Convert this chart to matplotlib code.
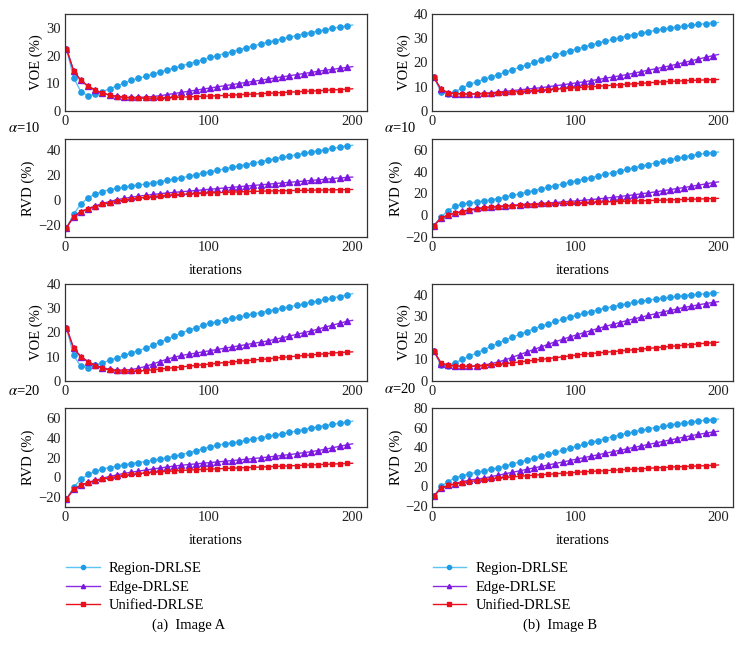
import matplotlib
matplotlib.use("Agg")
import matplotlib.pyplot as plt
from matplotlib.lines import Line2D

plt.rcParams['font.family'] = ['Liberation Serif', 'DejaVu Serif']
plt.rcParams['mathtext.fontset'] = 'stix'

iterations = [1, 6, 11, 16, 21, 26, 31, 36, 41, 46, 51, 56, 61, 66, 71, 76, 81, 86, 91, 96,
              101, 106, 111, 116, 121, 126, 131, 136, 141, 146, 151, 156, 161, 166, 171, 176,
              181, 186, 191, 196, 200]
x_ticks = [0, 100, 200]
series_names = ["Region-DRLSE", "Edge-DRLSE", "Unified-DRLSE"]

# ---- Image A, alpha=10 ----
a10_voe_region = [22.5, 12, 7, 5.5, 6, 7, 8, 9, 10, 11, 11.8, 12.5, 13.3, 14, 14.8, 15.5, 16.3, 17, 17.8, 18.5,
                  19.3, 20, 20.7, 21.4, 22.1, 22.8, 23.5, 24.2, 24.8, 25.4, 26, 26.6, 27.2, 27.8, 28.3, 28.8,
                  29.3, 29.8, 30.3, 30.7, 31]
a10_voe_edge = [22.5, 14.5, 11, 9, 7.5, 6.5, 5.7, 5.3, 5, 4.9, 4.9, 5, 5.2, 5.5, 5.9, 6.3, 6.7, 7.1, 7.5, 7.9,
                8.3, 8.7, 9.1, 9.5, 9.9, 10.3, 10.7, 11.1, 11.5, 11.9, 12.3, 12.7, 13.1, 13.5, 13.9, 14.3,
                14.7, 15, 15.4, 15.7, 16]
a10_voe_unified = [22.5, 14.5, 11, 9, 7.5, 6.5, 5.7, 5.2, 4.9, 4.7, 4.6, 4.6, 4.6, 4.7, 4.8, 4.9, 5, 5.1, 5.2, 5.3,
                   5.4, 5.5, 5.6, 5.7, 5.85, 6, 6.1, 6.25, 6.4, 6.5, 6.65, 6.8, 6.9, 7.05, 7.2, 7.3,
                   7.45, 7.6, 7.7, 7.85, 8]
a10_rvd_region = [-22, -11, -3, 2, 5, 7, 8.5, 9.5, 10.5, 11.5, 12.3, 13, 14, 15, 16, 17, 18, 19.2, 20.5, 21.7,
                  23, 24, 25.2, 26.3, 27.5, 28.6, 29.8, 31, 32, 33.2, 34.3, 35.4, 36.5, 37.5, 38.5, 39.5,
                  40.5, 41.5, 42.5, 43.5, 44]
a10_rvd_edge = [-22, -13, -9, -6.5, -4.5, -2.5, -1, 0.5, 1.5, 2.5, 3.3, 4, 4.7, 5.3, 5.9, 6.4, 6.9, 7.4, 7.9, 8.4,
                8.9, 9.4, 9.9, 10.4, 10.9, 11.4, 11.9, 12.4, 12.9, 13.4, 13.9, 14.4, 14.9, 15.4, 15.9, 16.4,
                16.9, 17.4, 17.9, 18.3, 18.6]
a10_rvd_unified = [-22, -13, -9, -7, -5, -3.3, -2, -0.8, 0.2, 1, 1.8, 2.4, 3, 3.5, 4, 4.4, 4.8, 5.1, 5.4, 5.7,
                   6, 6.2, 6.4, 6.6, 6.8, 7, 7.2, 7.3, 7.5, 7.6, 7.7, 7.8, 7.9, 8, 8.1, 8.2,
                   8.3, 8.4, 8.5, 8.6, 8.7]

# ---- Image B, alpha=10 ----
b10_voe_region = [14, 8, 7, 8, 9.5, 11, 12, 13, 14, 15, 16, 17, 18, 19, 20, 21, 22, 23, 24, 24.8,
                  25.6, 26.4, 27.2, 28, 28.8, 29.5, 30.2, 30.9, 31.5, 32.1, 32.7, 33.2, 33.7, 34.2, 34.6, 35,
                  35.4, 35.7, 36, 36.3, 36.5]
b10_voe_edge = [14, 9, 7.5, 7.2, 7, 7, 7.1, 7.3, 7.5, 7.8, 8.1, 8.4, 8.7, 9, 9.3, 9.6, 10, 10.4, 10.8, 11.2,
                11.6, 12, 12.5, 13, 13.5, 14, 14.5, 15, 15.6, 16.2, 16.8, 17.4, 18, 18.6, 19.3, 20,
                20.7, 21.4, 22.1, 22.8, 23.3]
b10_voe_unified = [14, 9, 7.5, 7.2, 7, 7, 7, 7.1, 7.2, 7.4, 7.6, 7.8, 8, 8.2, 8.4, 8.6, 8.8, 9, 9.2, 9.4,
                   9.6, 9.8, 10, 10.2, 10.4, 10.6, 10.8, 11, 11.2, 11.4, 11.6, 11.8, 12, 12.2, 12.3, 12.5,
                   12.6, 12.7, 12.8, 12.9, 13]
b10_rvd_region = [-10, -2, 4, 8, 10, 11, 12, 13, 14, 15, 16.5, 18, 19.5, 21, 22.5, 24, 25.5, 27, 28.5, 30,
                  31.5, 33, 34.5, 36, 37.5, 39, 40.5, 42, 43.5, 45, 46.5, 48, 49.5, 51, 52.3, 53.5,
                  54.7, 55.8, 56.8, 57.5, 58]
b10_rvd_edge = [-10, -3, 0, 2, 3.5, 5, 6, 7, 7.5, 8, 8.5, 9, 9.5, 10, 10.3, 10.7, 11, 11.5, 12, 12.5,
                13, 13.6, 14.2, 14.8, 15.5, 16.2, 17, 17.8, 18.6, 19.5, 20.4, 21.3, 22.3, 23.3, 24.3, 25.3,
                26.4, 27.5, 28.6, 29.8, 30.5]
b10_rvd_unified = [-10, -3, 0, 1.5, 3, 4.3, 5.3, 6.2, 7, 7.5, 8, 8.4, 8.8, 9.1, 9.4, 9.7, 10, 10.3, 10.6, 10.9,
                   11.1, 11.4, 11.6, 11.9, 12.1, 12.3, 12.5, 12.7, 12.9, 13.1, 13.3, 13.5, 13.7, 13.9, 14.1, 14.3,
                   14.5, 14.7, 14.9, 15.1, 15.3]

# ---- Image A, alpha=20 ----
a20_voe_region = [22, 10.5, 6, 5.5, 6.5, 7.5, 8.5, 9.5, 10.5, 11.5, 12.5, 13.5, 14.7, 16, 17.2, 18.5, 19.7, 21, 22, 23,
                  23.8, 24.5, 25.2, 25.8, 26.4, 27, 27.6, 28.2, 28.8, 29.4, 30, 30.6, 31.2, 31.8, 32.4, 33,
                  33.6, 34.2, 34.8, 35.4, 36]
a20_voe_edge = [22, 13.5, 10, 8, 6.5, 5.5, 4.8, 4.5, 4.5, 4.7, 5.2, 6, 7, 8, 9, 9.8, 10.5, 11, 11.5, 12,
                12.5, 13, 13.5, 14, 14.5, 15, 15.5, 16, 16.5, 17.2, 17.8, 18.5, 19.2, 19.9, 20.6, 21.4,
                22.2, 23, 23.8, 24.6, 25]
a20_voe_unified = [22, 13.5, 10, 8, 6.3, 5.2, 4.5, 4.2, 4, 4, 4.1, 4.3, 4.6, 4.9, 5.2, 5.5, 5.8, 6.1, 6.4, 6.7,
                   7, 7.3, 7.6, 7.8, 8.1, 8.4, 8.6, 8.9, 9.1, 9.4, 9.7, 10, 10.2, 10.5, 10.7, 11,
                   11.2, 11.5, 11.7, 11.9, 12]
a20_rvd_region = [-22, -10, -2, 3, 6, 8.5, 10, 11.5, 12.7, 14, 15, 16, 17.2, 18.5, 20, 21.5, 23, 25, 27, 29,
                  31, 32.5, 34, 35, 36, 37.5, 39, 40.3, 41.5, 42.8, 44, 45.5, 47, 48.5, 50, 51.3,
                  52.5, 53.7, 54.8, 56, 57]
a20_rvd_edge = [-22, -12, -8, -5, -3, -1, 1, 2.5, 4, 5.2, 6.3, 7.4, 8.5, 9.5, 10.5, 11.5, 12.3, 13, 13.7, 14.4,
                15, 15.7, 16.3, 17, 17.7, 18.4, 19.1, 19.8, 20.6, 21.4, 22.2, 23.1, 24, 25, 26, 27.2,
                28.5, 30, 31.5, 33, 34]
a20_rvd_unified = [-22, -12, -8, -5.5, -3.5, -2, -0.5, 0.8, 2, 3, 3.8, 4.5, 5.1, 5.6, 6.1, 6.5, 7, 7.4, 7.8, 8.1,
                   8.4, 8.7, 9, 9.3, 9.6, 9.9, 10.2, 10.5, 10.8, 11.1, 11.4, 11.7, 12, 12.3, 12.6, 12.9,
                   13.2, 13.5, 13.8, 14.1, 14.3]

# ---- Image B, alpha=20 ----
b20_voe_region = [14, 7.5, 7, 8.5, 10, 11.5, 13, 14.5, 16, 17.5, 19, 20.3, 21.6, 22.9, 24.2, 25.4, 26.5, 27.6, 28.6, 29.6,
                  30.5, 31.4, 32.2, 33, 33.8, 34.5, 35.2, 35.8, 36.4, 37, 37.5, 38, 38.4, 38.8, 39.2, 39.6,
                  39.9, 40.2, 40.5, 40.8, 41]
b20_voe_edge = [14, 8, 7.3, 7, 6.8, 6.8, 7, 7.4, 8, 8.8, 9.8, 11, 12.2, 13.4, 14.6, 15.8, 17, 18.2, 19.3, 20.4,
                21.4, 22.4, 23.4, 24.4, 25.3, 26.2, 27.1, 28, 28.8, 29.6, 30.4, 31.2, 32, 32.7, 33.4, 34.1,
                34.7, 35.3, 35.9, 36.4, 36.8]
b20_voe_unified = [14, 8.5, 7.3, 7, 6.8, 6.8, 6.9, 7.1, 7.4, 7.7, 8, 8.4, 8.8, 9.2, 9.6, 10, 10.4, 10.8, 11.2, 11.6,
                   12, 12.4, 12.7, 13, 13.3, 13.6, 13.9, 14.2, 14.5, 14.8, 15.1, 15.4, 15.7, 16, 16.3, 16.6,
                   16.9, 17.2, 17.5, 17.7, 18]
b20_rvd_region = [-10, 0, 5, 9, 11, 13, 14.5, 16, 17.5, 19, 21, 23, 25, 27, 29, 31, 33, 35, 37, 39,
                  41, 43, 45, 47, 49, 51, 52.7, 54.3, 56, 57.5, 59, 60.3, 61.6, 62.8, 64, 65,
                  66, 67, 67.8, 68.5, 69]
b20_rvd_edge = [-10, -2, 1, 3, 5, 6.5, 7.5, 8.5, 10, 11.5, 13, 14.5, 16, 17.5, 19, 20.5, 22, 23.5, 25, 26.5,
                28, 29.5, 31, 32.5, 34, 35.5, 37, 38.5, 40, 41.5, 43, 44.5, 46, 47.5, 49, 50.5,
                52, 53.3, 54.5, 55.7, 56.5]
b20_rvd_unified = [-10, -2, 1, 2.5, 4, 5, 6, 7, 7.8, 8.5, 9.2, 9.8, 10.4, 11, 11.5, 12, 12.5, 13, 13.5, 14,
                   14.5, 15, 15.4, 15.8, 16.2, 16.6, 17, 17.4, 17.8, 18.2, 18.6, 19, 19.4, 19.8, 20.1, 20.4,
                   20.7, 21, 21.3, 21.6, 22]

panels = [
    # (col, row, ylabel, ylim, yticks, data)
    (0, 0, "VOE (%)", (0, 35), [0, 10, 20, 30], (a10_voe_region, a10_voe_edge, a10_voe_unified)),
    (0, 1, "RVD (%)", (-29, 49), [-20, 0, 20, 40], (a10_rvd_region, a10_rvd_edge, a10_rvd_unified)),
    (0, 2, "VOE (%)", (0, 40), [0, 10, 20, 30, 40], (a20_voe_region, a20_voe_edge, a20_voe_unified)),
    (0, 3, "RVD (%)", (-30, 70), [-20, 0, 20, 40, 60], (a20_rvd_region, a20_rvd_edge, a20_rvd_unified)),
    (1, 0, "VOE (%)", (0, 40), [0, 10, 20, 30, 40], (b10_voe_region, b10_voe_edge, b10_voe_unified)),
    (1, 1, "RVD (%)", (-20, 70), [-20, 0, 20, 40, 60], (b10_rvd_region, b10_rvd_edge, b10_rvd_unified)),
    (1, 2, "VOE (%)", (0, 45), [0, 10, 20, 30, 40], (b20_voe_region, b20_voe_edge, b20_voe_unified)),
    (1, 3, "RVD (%)", (-21, 80), [-20, 0, 20, 40, 60, 80], (b20_rvd_region, b20_rvd_edge, b20_rvd_unified)),
]

line_colors = ["#5cc3f2", "#8a2be2", "#e8101c"]
marker_colors = ["#1f9be6", "#7b16e0", "#e8101c"]
markers = ["o", "^", "s"]

fig = plt.figure(figsize=(7.42, 6.52), dpi=100)

col_left = [0.0876, 0.5826]
col_width = [0.407, 0.405]
row_bottom = [0.8298, 0.637, 0.4157, 0.2224]
row_height = [0.1488, 0.1498, 0.1488, 0.1514]

fs = 10.5
for col, row, ylabel, ylim, yticks, data in panels:
    ax = fig.add_axes([col_left[col], row_bottom[row], col_width[col], row_height[row]])
    for i, ys in enumerate(data):
        ax.plot(iterations, ys, color=line_colors[i], lw=1.0, marker=markers[i],
                markersize=3.8 if markers[i] != "s" else 3.3,
                markerfacecolor=marker_colors[i], markeredgecolor=marker_colors[i],
                markevery=slice(0, len(iterations) - 1))
    ax.set_xlim(0, 210)
    ax.set_ylim(*ylim)
    ax.set_xticks(x_ticks)
    ax.set_yticks(yticks)
    ax.set_yticklabels([str(t).replace("-", "\u2212") for t in yticks])
    ax.tick_params(length=0, labelsize=fs, pad=3, colors="#222222")
    ax.set_ylabel(ylabel, fontsize=fs, labelpad=2)
    for s in ax.spines.values():
        s.set_linewidth(0.9)
        s.set_color("#333333")
    if row in (1, 3):
        ax.set_xlabel("iterations", fontsize=fs, labelpad=7)

# alpha labels
for x, y, txt in [(0.011, 0.803, r"$\alpha$=10"), (0.517, 0.803, r"$\alpha$=10"),
                  (0.011, 0.401, r"$\alpha$=20"), (0.517, 0.403, r"$\alpha$=20")]:
    fig.text(x, y, txt, fontsize=fs, va="center", ha="left")

# legends
handles = [Line2D([0], [0], color=line_colors[i], lw=1.0, marker=markers[i], markersize=3.0,
                  markerfacecolor=marker_colors[i], markeredgecolor=marker_colors[i])
           for i in range(3)]
for lx in [0.085, 0.579]:
    fig.legend(handles, series_names, loc="upper left", bbox_to_anchor=(lx, 0.143),
               frameon=False, fontsize=fs, handlelength=2.3, handletextpad=0.65,
               labelspacing=0.38, borderaxespad=0, borderpad=0.2)

fig.text(0.254, 0.041, "(a)  Image A", fontsize=fs, ha="center", va="center")
fig.text(0.755, 0.041, "(b)  Image B", fontsize=fs, ha="center", va="center")

fig.savefig("out.png", dpi=100)
